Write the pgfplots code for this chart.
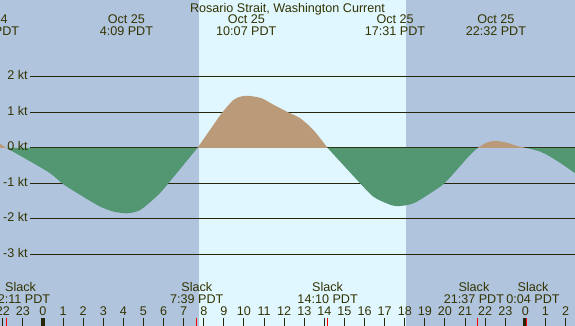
\documentclass[border=0pt]{standalone}
\usepackage{pgfplots}
\pgfplotsset{compat=1.18}
\usepackage{fontspec}
\setmainfont{Liberation Sans}
\definecolor{bgcol}{RGB}{176,196,222}
\definecolor{daycol}{RGB}{224,247,255}
\definecolor{ebbcol}{RGB}{82,150,114}
\definecolor{floodcol}{RGB}{187,154,122}
\definecolor{txtcol}{RGB}{51,51,0}
\definecolor{linecol}{RGB}{38,38,8}
\newcommand\ff{\fontsize{12.6}{12.6}\selectfont}
\tikzset{lbl/.style={font=\ff, text=txtcol, inner sep=0pt}}
\begin{document}
\begin{tikzpicture}
\begin{axis}[
  width=575pt, height=326pt, scale only axis,
  xmin=-2.139, xmax=26.468, ymin=-5.014, ymax=4.169,
  axis line style={draw=none}, xtick=\empty, ytick=\empty,
  axis background/.style={fill=bgcol},
  clip=true,
]
% daylight
\fill[daycol] (axis cs:7.76,-5.2) rectangle (axis cs:18.06,4.3);
% grid lines
\pgfplotsinvokeforeach{2,1,0,-1,-2,-3}{
  \draw[linecol, line width=1pt] (axis cs:-0.647,#1) -- (axis cs:26.6,#1);
}
% flood / ebb areas
\addplot[fill=floodcol, draw=none, smooth] coordinates {(-2.14,0.12)(-1.82,0)} \closedcycle;
\addplot[fill=ebbcol, draw=none, smooth, tension=0.5] coordinates {
(-1.82,0)(-1.0,-0.26)(0.35,-0.71)(1.01,-1.02)(1.99,-1.37)(2.84,-1.65)(3.5,-1.79)(4.16,-1.84)(4.6,-1.8)(4.98,-1.69)(5.82,-1.27)(6.65,-0.71)(7.68,0)} \closedcycle;
\addplot[fill=floodcol, draw=none, smooth, tension=0.5] coordinates {
(7.68,0)(8.31,0.51)(8.89,0.98)(9.47,1.35)(9.85,1.45)(10.21,1.47)(10.88,1.40)(11.46,1.22)(12.29,0.98)(12.79,0.84)(13.45,0.51)(14.16,0)} \closedcycle;
\addplot[fill=ebbcol, draw=none, smooth, tension=0.5] coordinates {
(14.16,0)(14.94,-0.48)(15.77,-0.99)(16.43,-1.37)(17.10,-1.56)(17.6,-1.64)(18.42,-1.56)(19.25,-1.28)(19.92,-1.02)(20.58,-0.62)(21.24,-0.2)(21.62,0)} \closedcycle;
\addplot[fill=floodcol, draw=none, smooth, tension=0.5] coordinates {
(21.62,0)(22.07,0.15)(22.49,0.2)(23.07,0.15)(23.57,0.06)(24.06,0)} \closedcycle;
\addplot[fill=ebbcol, draw=none, smooth, tension=0.5] coordinates {
(24.06,0)(24.73,-0.1)(25.22,-0.24)(25.89,-0.48)(26.47,-0.71)(26.6,-0.75)} \closedcycle;
% y labels
\pgfplotsinvokeforeach{2,1,0,-1,-2,-3}{
  \node[lbl, anchor=mid east] at (axis cs:-0.75,#1) {#1 kt};
}
% hour ticks and labels
\pgfplotsinvokeforeach{-2,...,26}{
  \draw[linecol, line width=1pt] (axis cs:#1,-5.014) -- (axis cs:#1,-4.789);
  \node[lbl, anchor=base] at (axis cs:#1,-4.724) {\pgfmathparse{int(mod(#1+24,24))}\pgfmathresult};
}
\draw[linecol, line width=3.5pt] (axis cs:0,-5.014) -- (axis cs:0,-4.789);
\draw[linecol, line width=3.5pt] (axis cs:23.96,-5.014) -- (axis cs:23.96,-4.789);
\pgfplotsinvokeforeach{-1.82,7.65,14.17,21.62,24.07}{
  \draw[red, line width=1pt] (axis cs:#1,-5.014) -- (axis cs:#1,-4.789);
}
% slack labels
\node[lbl, anchor=base] at (axis cs:-1.119,-4.037) {Slack};
\node[lbl, anchor=base] at (axis cs:-1.119,-4.375) {22:11 PDT};
\node[lbl, anchor=base] at (axis cs:7.65,-4.037) {Slack};
\node[lbl, anchor=base] at (axis cs:7.65,-4.375) {7:39 PDT};
\node[lbl, anchor=base] at (axis cs:14.16,-4.037) {Slack};
\node[lbl, anchor=base] at (axis cs:14.16,-4.375) {14:10 PDT};
\node[lbl, anchor=base] at (axis cs:21.44,-4.037) {Slack};
\node[lbl, anchor=base] at (axis cs:21.44,-4.375) {21:37 PDT};
\node[lbl, anchor=base] at (axis cs:24.38,-4.037) {Slack};
\node[lbl, anchor=base] at (axis cs:24.38,-4.375) {0:04 PDT};
% top labels
\node[lbl, anchor=base] at (axis cs:12.164,3.823) {Rosario Strait, Washington Current};
\node[lbl, anchor=base] at (axis cs:-2.687,3.493) {Oct 24};
\node[lbl, anchor=base] at (axis cs:-2.687,3.155) {21:19 PDT};
\node[lbl, anchor=base] at (axis cs:4.15,3.493) {Oct 25};
\node[lbl, anchor=base] at (axis cs:4.15,3.155) {4:09 PDT};
\node[lbl, anchor=base] at (axis cs:10.117,3.493) {Oct 25};
\node[lbl, anchor=base] at (axis cs:10.117,3.155) {10:07 PDT};
\node[lbl, anchor=base] at (axis cs:17.517,3.493) {Oct 25};
\node[lbl, anchor=base] at (axis cs:17.517,3.155) {17:31 PDT};
\node[lbl, anchor=base] at (axis cs:22.533,3.493) {Oct 25};
\node[lbl, anchor=base] at (axis cs:22.533,3.155) {22:32 PDT};
\end{axis}
\pgfresetboundingbox
\path[use as bounding box] (current axis.south west) rectangle (current axis.north east);
\end{tikzpicture}
\end{document}
